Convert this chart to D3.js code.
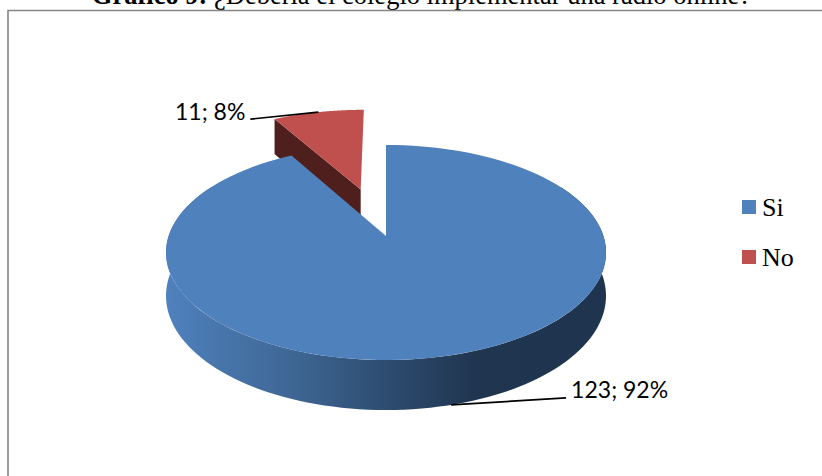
<!DOCTYPE html>
<html>
<head>
<meta charset="utf-8">
<script src="https://cdn.jsdelivr.net/npm/d3@7"></script>
<style>
    html, body { margin: 0; padding: 0; background: #fff; overflow: hidden; }
    svg { display: block; }
</style>
</head>
<body>
<div id="chart"></div>
<script>
// ── Data ──
const categories = ["Si", "No"];
const counts = [123, 11];
const percents = [92, 8];

const WIDTH = 822;
const HEIGHT = 476;

const faceColors = ["#4f81bd", "#c0504d"];
const wallRed = "#4f1f1d";
const sideStops = [
    [0, "#4f81bd"], [0.3, "#3d6591"], [0.5, "#2d4c70"], [0.7, "#20354f"], [1, "#1f344f"],
];

// ── Perspective of the pie plane: disc coords (u, v) → screen ──
const CX = 386, CY = 236, A = 217.4, B = 105, K = 0.1535, DEPTH = 42.3, EXPLODE = 0.49;

function project(u, v, down) {
    const w = 1 - K * v;
    return [CX + A * u / w, CY + B * v / w + (down ? DEPTH / w : 0)];
}

function rimPoint(angle, ox, oy, down) {
    return project(ox + Math.sin(angle), oy - Math.cos(angle), down);
}

function arcPoints(a0, a1, ox, oy, down) {
    return d3.range(0, 121).map(i => rimPoint(a0 + (a1 - a0) * i / 120, ox, oy, down));
}

const line = d3.line();

const arcs = d3.pie().sort(null)(counts);

const svg = d3.select("#chart")
    .append("svg")
    .attr("width", WIDTH)
    .attr("height", HEIGHT)
    .attr("viewBox", `0 0 ${WIDTH} ${HEIGHT}`);

// Side gradient runs left to right over the whole pie
const grad = svg.append("defs").append("linearGradient")
    .attr("id", "side")
    .attr("gradientUnits", "userSpaceOnUse")
    .attr("x1", 167).attr("x2", 607).attr("y1", 0).attr("y2", 0);
sideStops.forEach(s => grad.append("stop").attr("offset", s[0]).attr("stop-color", s[1]));

// ── Title (its top is cut by the page edge in the source) and frame ──
const title = svg.append("text")
    .attr("x", 421.5)
    .attr("y", 4)
    .attr("text-anchor", "middle")
    .attr("font-family", "Liberation Serif")
    .attr("font-size", 26.5)
    .attr("fill", "#000");
title.append("tspan").attr("font-weight", "bold").text("Gráfico 9:");
title.append("tspan").text(" ¿Debería el colegio implementar una radio online?");

svg.append("path")
    .attr("d", `M8,${HEIGHT}V10.5H${WIDTH}`)
    .attr("fill", "none")
    .attr("stroke", "#868686")
    .attr("stroke-width", 1.6);

// ── No slice (drawn first, the Si slice covers the foot of its wall) ──
const noArc = arcs[1];
const noMid = (noArc.startAngle + noArc.endAngle) / 2;
const ox = EXPLODE * Math.sin(noMid), oy = -EXPLODE * Math.cos(noMid);

const wallTop = [project(ox, oy, false), rimPoint(noArc.startAngle, ox, oy, false)];
const wallBottom = [rimPoint(noArc.startAngle, ox, oy, true), project(ox, oy, true)];
svg.append("path")
    .attr("d", line(wallTop.concat(wallBottom)) + "Z")
    .attr("fill", wallRed);

svg.append("path")
    .attr("d", line([project(ox, oy, false)].concat(arcPoints(noArc.startAngle, noArc.endAngle, ox, oy, false))) + "Z")
    .attr("fill", faceColors[1]);

// ── Si slice: front side strip, then top face ──
const siArc = arcs[0];
const frontFrom = Math.max(siArc.startAngle, Math.PI / 3);
const frontTo = Math.min(siArc.endAngle, Math.PI * 5 / 3);
svg.append("path")
    .attr("d", line(arcPoints(frontFrom, frontTo, 0, 0, false)
        .concat(arcPoints(frontFrom, frontTo, 0, 0, true).reverse())) + "Z")
    .attr("fill", "url(#side)");

svg.append("path")
    .attr("d", line([project(0, 0, false)].concat(arcPoints(siArc.startAngle, siArc.endAngle, 0, 0, false))) + "Z")
    .attr("fill", faceColors[0]);

// ── Data labels with leader lines ──
const siMid = (siArc.startAngle + siArc.endAngle) / 2;
const siAnchor = rimPoint(siMid, 0, 0, true);
const noAnchor = rimPoint(noMid, ox, oy, false);

const labels = [
    { i: 0, from: siAnchor, dx: 115, dy: -7, gap: 5, anchor: "start" },
    { i: 1, from: noAnchor, dx: -68, dy: 7, gap: -5, anchor: "end" },
];

labels.forEach(d => {
    const ex = d.from[0] + d.dx, ey = d.from[1] + d.dy;
    svg.append("path")
        .attr("d", `M${d.from[0]},${d.from[1]}L${ex},${ey}`)
        .attr("fill", "none")
        .attr("stroke", "#000")
        .attr("stroke-width", 1.7);
    svg.append("text")
        .attr("x", ex + d.gap)
        .attr("y", ey + 0.5)
        .attr("text-anchor", d.anchor)
        .attr("font-family", "Lato")
        .attr("font-size", 23)
        .attr("fill", "#000")
        .text(`${counts[d.i]}; ${percents[d.i]}%`);
});

// ── Legend ──
const legendY = d3.scalePoint().domain(categories).range([207, 257]);

categories.forEach((c, i) => {
    svg.append("rect")
        .attr("x", 742)
        .attr("y", legendY(c) - 7)
        .attr("width", 14)
        .attr("height", 14)
        .attr("fill", faceColors[i]);
    svg.append("text")
        .attr("x", 762)
        .attr("y", legendY(c) + 9)
        .attr("font-family", "Liberation Serif")
        .attr("font-size", 26)
        .attr("fill", "#000")
        .text(c);
});
</script>
</body>
</html>
